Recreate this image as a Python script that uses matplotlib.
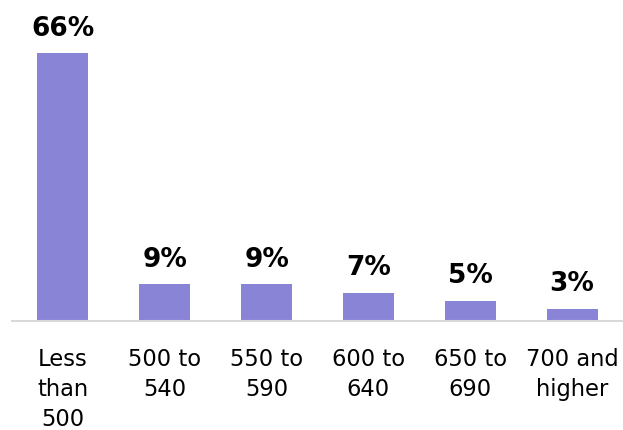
import matplotlib
matplotlib.use("Agg")
import matplotlib.pyplot as plt

categories = ["Less\nthan\n500", "500 to\n540", "550 to\n590", "600 to\n640", "650 to\n690", "700 and\nhigher"]
values = [66, 9, 9, 7, 5, 3]
labels = ["66%", "9%", "9%", "7%", "5%", "3%"]

plt.rcParams['font.family'] = ['DejaVu Sans']
fig = plt.figure(figsize=(6.23, 4.31), dpi=100)
ax = fig.add_axes([12/623, 109/431, 611/623, 284/431])
x = list(range(len(categories)))
ax.bar(x, values, width=0.5, color="#8a84d6", zorder=2)
ax.set_xlim(-0.5, len(categories) - 0.5)
ax.set_ylim(0, 70)
for xi, v, lab in zip(x, values, labels):
    ax.annotate(lab, (xi, v), xytext=(0, 9), textcoords="offset points",
                ha="center", va="bottom", fontsize=19, fontweight="bold", color="black")
ax.set_xticks(x)
ax.set_xticklabels(categories, fontsize=16.3, linespacing=1.38)
ax.tick_params(axis="x", length=0, pad=19)
ax.set_yticks([])
for s in ["top", "right", "left"]:
    ax.spines[s].set_visible(False)
ax.spines["bottom"].set_color("#d9d9d9")
ax.spines["bottom"].set_linewidth(1.5)
fig.savefig("out.png", dpi=100)
